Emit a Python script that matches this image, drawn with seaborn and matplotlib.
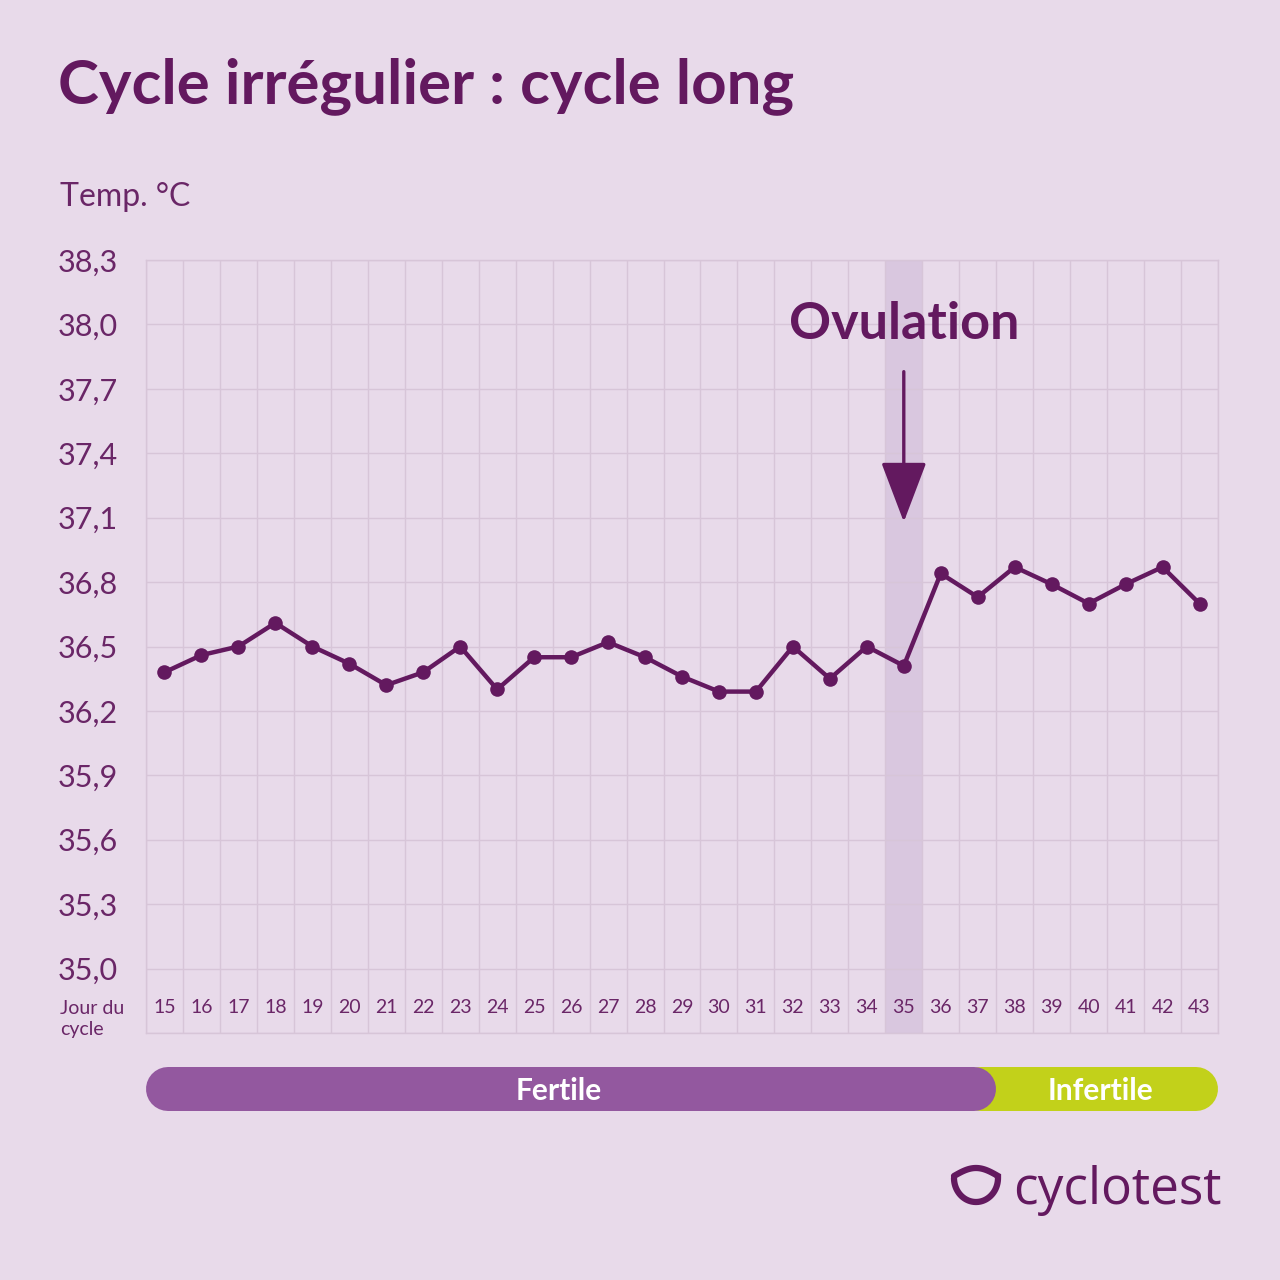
import numpy as np
import matplotlib
matplotlib.use("Agg")
import matplotlib.pyplot as plt
from matplotlib.path import Path
from matplotlib.patches import PathPatch
import seaborn as sns

# ---------------- data ----------------
days = [15, 16, 17, 18, 19, 20, 21, 22, 23, 24, 25, 26, 27, 28, 29,
        30, 31, 32, 33, 34, 35, 36, 37, 38, 39, 40, 41, 42, 43]
temps = [36.38, 36.46, 36.50, 36.61, 36.50, 36.42, 36.32, 36.38, 36.50, 36.30,
         36.45, 36.45, 36.52, 36.45, 36.36, 36.29, 36.29, 36.50, 36.35, 36.50,
         36.41, 36.84, 36.73, 36.87, 36.79, 36.70, 36.79, 36.87, 36.70]
ytick_values = [35.0, 35.3, 35.6, 35.9, 36.2, 36.5, 36.8, 37.1, 37.4, 37.7, 38.0, 38.3]
ovulation_day = 35
phases = ["Fertile", "Infertile"]
phase_last_day = [37, 43]

title = "Cycle irrégulier : cycle long"
y_label = "Temp. °C"
x_label = "Jour du\ncycle"
brand = "cyclotest"

# ---------------- style ----------------
BG = "#E8DAEA"
DARK = "#63195F"
TEXT = "#6A2667"
GRID = "#D7C5D8"
BAND = "#D9C7DF"
FERTILE = "#93589F"
INFERTILE = "#C2D11A"

sns.set_style("white", rc={"axes.facecolor": BG, "figure.facecolor": BG})
plt.rcParams["font.family"] = ["Lato", "DejaVu Sans"]

W = H = 1280
fig = plt.figure(figsize=(12.8, 12.8), dpi=100)
fig.patch.set_facecolor(BG)


def fx(px):
    return px / W


def fy(py):
    return 1 - py / H


ax = fig.add_axes([fx(146), fy(1033), fx(1218) - fx(146), fy(260) - fy(1033)])
ax.set_facecolor(BG)

xmin, xmax = days[0] - 0.5, days[-1] + 0.5
ymin, ymax = ytick_values[0] - 0.3, ytick_values[-1]
ax.set_xlim(xmin, xmax)
ax.set_ylim(ymin, ymax)

# grid
ax.set_xticks(np.arange(xmin, xmax + 0.01, 1.0))
ax.set_xticklabels([])
yt = [ymin] + ytick_values
ax.set_yticks(yt)
ax.set_yticklabels([""] + [f"{v:.1f}".replace(".", ",") for v in ytick_values])
ax.grid(True, color=GRID, linewidth=1.0)
ax.set_axisbelow(True)
ax.tick_params(axis="both", length=0)
ax.tick_params(axis="y", pad=20, labelsize=22, labelcolor=TEXT)
for s in ax.spines.values():
    s.set_color(GRID)
    s.set_linewidth(1.0)

# ovulation band
ax.axvspan(ovulation_day - 0.5, ovulation_day + 0.5, color=BAND, zorder=0.5, lw=0)

# line
sns.lineplot(x=days, y=temps, ax=ax, color=DARK, linewidth=3.2, marker="o",
             markersize=10.5, markeredgewidth=0, zorder=3)

# day labels
for d in days:
    ax.text(d, ymin + 0.12, str(d), ha="center", va="center", fontsize=14,
            color=TEXT)

# ovulation annotation
ax.text(ovulation_day, 38.0, "Ovulation", ha="center", va="center",
        fontsize=37.5, fontweight="bold", color=DARK)
ax.annotate("", xy=(ovulation_day, 37.08), xytext=(ovulation_day, 37.78),
            arrowprops=dict(arrowstyle="-|>,head_length=3.8,head_width=1.44",
                            mutation_scale=10,
                            color=DARK, lw=2.4, shrinkA=0, shrinkB=0))

# texts
fig.text(fx(58), fy(86), title, ha="left", va="center", fontsize=44.5,
         fontweight="bold", color=DARK)
fig.text(fx(60), fy(197), y_label, ha="left", va="center", fontsize=23,
         color=TEXT)
fig.text(fx(60), fy(1019), x_label, ha="left", va="center", fontsize=14,
         color=TEXT, linespacing=1.25)

# phase bar
bx = fig.add_axes([fx(146), fy(1111), fx(1218) - fx(146), fy(1066) - fy(1111)])
bx.set_xlim(xmin, xmax)
bx.set_ylim(0, 1)
bx.axis("off")
bx.patch.set_alpha(0)
px_per_day = (1218 - 146) / (xmax - xmin)
r = 22 / px_per_day
lw_pt = 44 * 72 / 100
starts = [xmin] + [d + 0.5 for d in phase_last_day[:-1]]
ends = [d + 0.5 for d in phase_last_day]
colors = [FERTILE, INFERTILE]
for i in reversed(range(len(phases))):
    s = starts[i] - (1.0 if i > 0 else 0) + r
    e = ends[i] - r
    bx.plot([s, e], [0.5, 0.5], color=colors[i], lw=lw_pt, solid_capstyle="round",
            zorder=10 - i)
bx.text(25.67, 0.44, phases[0], ha="center", va="center", fontsize=21.5,
        fontweight="bold", color="white", zorder=20)
bx.text(40.33, 0.44, phases[1], ha="center", va="center", fontsize=21.5,
        fontweight="bold", color="white", zorder=20)

# brand logo
fig.text(fx(1222), fy(1190), brand, ha="right", va="center", fontsize=37,
         color=DARK, family=["Open Sans", "DejaVu Sans"])
t = np.linspace(0, 1, 50)
logo_x = []
logo_y = []
for u in t:
    logo_x.append(954 + 44 * u)
    logo_y.append(1176 - 8 * np.sin(np.pi * u))
for u in t:
    ang = np.pi * u
    logo_x.append(976 + 22 * np.cos(ang))
    logo_y.append(1178 + 24 * np.sin(ang))
pts = [(fx(a), fy(b)) for a, b in zip(logo_x, logo_y)]
fig.add_artist(PathPatch(Path(pts), transform=fig.transFigure, fill=False,
                         edgecolor=DARK, lw=4.5, capstyle="round"))

fig.savefig("out.png", dpi=100, facecolor=BG)
